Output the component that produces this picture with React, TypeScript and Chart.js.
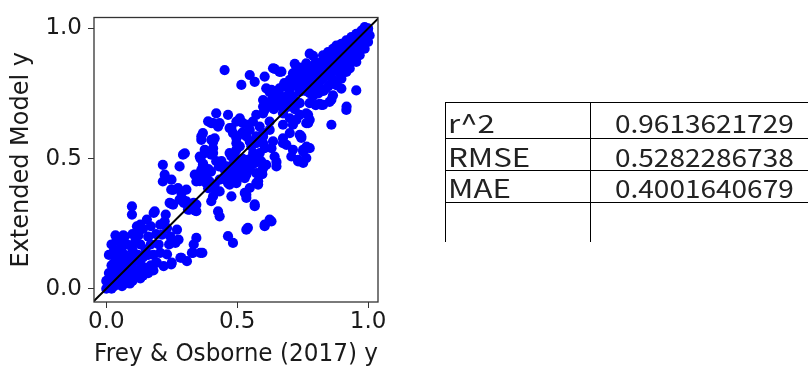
import React, { useEffect, useRef } from "react";
import { Chart, registerables } from "chart.js";

Chart.register(...registerables);

// Scatter values (Frey & Osborne y  vs  Extended Model y)
const xValues = [
  0.00, 0.01, 0.00, 0.02, 0.02, 0.03, 0.03, 0.01, 0.04, 0.04,
  0.05, 0.05, 0.03, 0.04, 0.06, 0.06, 0.07, 0.07, 0.08, 0.08,
  0.05, 0.07, 0.09, 0.09, 0.10, 0.10, 0.11, 0.11, 0.12, 0.12,
  0.13, 0.13, 0.14, 0.14, 0.15, 0.16, 0.16, 0.17, 0.18, 0.19,
  0.06, 0.08, 0.10, 0.11, 0.04, 0.07, 0.10, 0.12, 0.15, 0.17,
  0.02, 0.09, 0.06, 0.14, 0.01, 0.03, 0.13, 0.18, 0.02, 0.05,
  0.098, 0.098, 0.155, 0.13, 0.117, 0.181, 0.206, 0.232, 0.213, 0.245,
  0.264, 0.27, 0.276, 0.227, 0.247, 0.296, 0.334, 0.34, 0.334, 0.327,
  0.359, 0.25, 0.283, 0.308, 0.206, 0.232, 0.193, 0.219, 0.344, 0.223,
  0.20, 0.24, 0.16, 0.19, 0.14, 0.17, 0.065, 0.035, 0.123,
  0.216, 0.223, 0.216, 0.249, 0.255, 0.287, 0.28, 0.293, 0.255, 0.293,
  0.312, 0.344, 0.185, 0.338, 0.344, 0.363, 0.382, 0.395, 0.389, 0.414,
  0.42, 0.433, 0.452, 0.471, 0.465, 0.497, 0.51, 0.535, 0.548, 0.573,
  0.484, 0.459, 0.522, 0.478, 0.529, 0.548, 0.427, 0.433, 0.541, 0.401,
  0.433, 0.535, 0.535, 0.567, 0.58, 0.58, 0.596, 0.596, 0.631, 0.605,
  0.535, 0.465, 0.484, 0.367, 0.331, 0.287, 0.248, 0.30, 0.36, 0.37,
  0.357, 0.376, 0.401, 0.369, 0.376, 0.35, 0.357, 0.382, 0.478, 0.49,
  0.503, 0.484, 0.459, 0.471, 0.497, 0.529, 0.522, 0.548, 0.248, 0.274,
  0.306, 0.242, 0.28, 0.306, 0.318, 0.344,
  0.452, 0.516, 0.548, 0.567, 0.605, 0.637, 0.669, 0.42, 0.465, 0.51,
  0.522, 0.408, 0.427, 0.478, 0.484, 0.497, 0.497, 0.414, 0.408, 0.401,
  0.433, 0.471, 0.369, 0.363, 0.408, 0.376, 0.408, 0.471, 0.497, 0.535,
  0.548, 0.573, 0.554, 0.548, 0.56, 0.586, 0.599, 0.624, 0.599, 0.573,
  0.548, 0.579, 0.599, 0.605, 0.586, 0.56, 0.541, 0.567, 0.592, 0.599,
  0.605, 0.599, 0.62, 0.64, 0.389, 0.363, 0.401, 0.51, 0.52, 0.54,
  0.675, 0.688, 0.713, 0.707, 0.733, 0.764, 0.752, 0.777, 0.643, 0.65,
  0.771, 0.771, 0.86, 0.917, 0.752, 0.765, 0.733, 0.65, 0.599, 0.592,
  0.573, 0.567, 0.624, 0.605, 0.631, 0.637, 0.675, 0.701, 0.745, 0.713,
  0.675, 0.624, 0.599, 0.573, 0.561, 0.58, 0.548, 0.675, 0.701, 0.726,
  0.739, 0.764, 0.777, 0.764, 0.739, 0.745,
  0.752, 0.611, 0.408, 0.497, 0.50, 0.828,
  0.611, 0.637, 0.662, 0.688, 0.631, 0.656, 0.682, 0.701, 0.669,
  0.631, 0.65, 0.675, 0.701, 0.713, 0.726, 0.745, 0.764, 0.777, 0.79,
  0.803, 0.643, 0.669, 0.688, 0.713, 0.739, 0.758, 0.777, 0.803, 0.777,
  0.739, 0.701,
  0.777, 0.79, 0.643, 0.662, 0.72, 0.735, 0.828, 0.847, 0.866, 0.879,
  0.898, 0.917, 0.936, 0.955, 0.975, 0.987, 1.00, 0.853, 0.866, 0.879,
  0.898, 0.917, 0.93, 0.955, 0.968, 0.987, 1.00, 1.006, 0.898, 0.955,
  0.918, 0.815, 0.80, 0.624, 0.636, 0.86, 0.822,
  0.80, 0.82, 0.84, 0.86, 0.88, 0.90, 0.92, 0.94, 0.96, 0.97,
  0.98, 0.99, 0.95, 0.93, 0.91, 0.89, 0.87, 0.85, 0.83, 0.81,
  0.79, 0.77, 0.75, 0.78, 0.80, 0.76, 0.82, 0.84, 0.86, 0.88,
  0.90, 0.92, 0.94, 0.96, 0.98, 0.99, 0.97, 0.95, 0.93, 0.91,
  0.89, 0.87, 0.85, 0.83, 0.81, 0.79, 0.84, 0.86, 0.88, 0.90,
  0.92, 0.94, 0.96, 0.98, 0.99, 1.00, 0.97, 0.95, 0.93, 0.91,
  0.68, 0.70, 0.72, 0.74, 0.66, 0.69, 0.71, 0.73, 0.76, 0.78,
  0.80, 0.82, 0.75, 0.73, 0.84, 0.86, 0.88, 0.90, 0.92, 0.94,
  0.39, 0.42, 0.45, 0.50, 0.52, 0.44, 0.40, 0.47, 0.43, 0.49,
  0.68, 0.72, 0.70, 0.66, 0.74,
];

const yValues = [
  0.00, 0.01, 0.03, 0.00, 0.03, 0.01, 0.05, 0.06, 0.02, 0.07,
  0.03, 0.09, 0.10, 0.12, 0.05, 0.11, 0.02, 0.08, 0.04, 0.10,
  0.14, 0.13, 0.06, 0.12, 0.03, 0.08, 0.05, 0.11, 0.07, 0.13,
  0.04, 0.10, 0.06, 0.12, 0.08, 0.06, 0.13, 0.09, 0.07, 0.10,
  0.16, 0.17, 0.15, 0.18, 0.19, 0.20, 0.21, 0.21, 0.15, 0.17,
  0.09, 0.02, 0.01, 0.05, 0.13, 0.15, 0.17, 0.13, 0.17, 0.18,
  0.316, 0.285, 0.266, 0.246, 0.24, 0.291, 0.246, 0.233, 0.208, 0.20,
  0.176, 0.227, 0.189, 0.285, 0.327, 0.33, 0.33, 0.30, 0.17, 0.138,
  0.138, 0.10, 0.119, 0.106, 0.138, 0.132, 0.10, 0.087, 0.195, 0.259,
  0.17, 0.17, 0.20, 0.21, 0.23, 0.24, 0.205, 0.205, 0.205,
  0.476, 0.438, 0.412, 0.419, 0.38, 0.368, 0.47, 0.515, 0.323, 0.342,
  0.304, 0.323, 0.297, 0.438, 0.412, 0.457, 0.431, 0.412, 0.386, 0.399,
  0.374, 0.419, 0.431, 0.444, 0.406, 0.412, 0.438, 0.438, 0.457, 0.444,
  0.476, 0.47, 0.483, 0.355, 0.368, 0.387, 0.297, 0.278, 0.234, 0.336,
  0.374, 0.349, 0.361, 0.324, 0.413, 0.40, 0.44, 0.457, 0.259, 0.24,
  0.227, 0.202, 0.176, 0.138, 0.138, 0.119, 0.093, 0.52, 0.50, 0.48,
  0.508, 0.521, 0.515, 0.476, 0.451, 0.438, 0.413, 0.406, 0.508, 0.521,
  0.476, 0.444, 0.419, 0.40, 0.406, 0.425, 0.451, 0.496, 0.381, 0.387,
  0.381, 0.33, 0.342, 0.336, 0.304, 0.298,
  0.84, 0.783, 0.821, 0.795, 0.815, 0.847, 0.834, 0.674, 0.668, 0.655,
  0.636, 0.636, 0.623, 0.617, 0.598, 0.578, 0.559, 0.578, 0.54, 0.636,
  0.636, 0.617, 0.598, 0.572, 0.564, 0.534, 0.521, 0.521, 0.534, 0.585,
  0.61, 0.585, 0.547, 0.496, 0.642, 0.623, 0.598, 0.642, 0.674, 0.668,
  0.566, 0.578, 0.559, 0.54, 0.521, 0.508, 0.495, 0.482, 0.489, 0.725,
  0.687, 0.70, 0.70, 0.69, 0.643, 0.585, 0.572, 0.547, 0.60, 0.63,
  0.578, 0.553, 0.534, 0.508, 0.495, 0.502, 0.483, 0.54, 0.508, 0.47,
  0.668, 0.636, 0.63, 0.687, 0.534, 0.546, 0.489, 0.487, 0.464, 0.444,
  0.406, 0.317, 0.266, 0.246, 0.54, 0.566, 0.559, 0.598, 0.585, 0.63,
  0.63, 0.61, 0.585, 0.559, 0.521, 0.508, 0.464, 0.674, 0.655, 0.649,
  0.668, 0.674, 0.649, 0.636, 0.591, 0.579,
  0.527, 0.476, 0.355, 0.642, 0.585, 0.706,
  0.77, 0.757, 0.77, 0.776, 0.725, 0.738, 0.725, 0.738, 0.70,
  0.764, 0.751, 0.777, 0.802, 0.827, 0.853, 0.84, 0.866, 0.847, 0.815,
  0.827, 0.713, 0.719, 0.732, 0.738, 0.757, 0.783, 0.751, 0.764, 0.713,
  0.713, 0.70,
  0.903, 0.895, 0.845, 0.833, 0.864, 0.85, 0.897, 0.909, 0.922, 0.934,
  0.941, 0.954, 0.967, 0.979, 0.992, 1.005, 0.998, 0.718, 0.743, 0.782,
  0.807, 0.833, 0.846, 0.871, 0.897, 0.922, 0.948, 0.973, 0.769, 0.762,
  0.70, 0.71, 0.705, 0.756, 0.74, 0.726, 0.706,
  0.80, 0.84, 0.82, 0.86, 0.85, 0.88, 0.90, 0.92, 0.94, 0.96,
  0.97, 0.99, 0.90, 0.87, 0.86, 0.83, 0.80, 0.78, 0.76, 0.75,
  0.77, 0.79, 0.80, 0.82, 0.85, 0.76, 0.80, 0.86, 0.89, 0.90,
  0.92, 0.93, 0.95, 0.96, 0.99, 0.95, 0.93, 0.95, 0.92, 0.90,
  0.87, 0.84, 0.83, 0.81, 0.78, 0.74, 0.77, 0.81, 0.79, 0.84,
  0.86, 0.89, 0.91, 0.94, 0.97, 1.00, 0.98, 0.93, 0.94, 0.92,
  0.79, 0.76, 0.78, 0.82, 0.75, 0.74, 0.72, 0.80, 0.83, 0.85,
  0.87, 0.87, 0.85, 0.83, 0.88, 0.90, 0.91, 0.93, 0.95, 0.96,
  0.46, 0.49, 0.46, 0.46, 0.50, 0.49, 0.45, 0.43, 0.47, 0.49,
  0.69, 0.69, 0.72, 0.72, 0.77,
];

// identity reference line y = x
const identityLine = [-0.06, 1.06];

const tickValues = [0, 0.5, 1];
const xRange = [-0.047, 1.038];
const yRange = [-0.051, 1.042];

const xTitle = "Frey & Osborne (2017) y";
const yTitle = "Extended Model y";

// metrics table
const metricNames = ["r^2", "RMSE", "MAE"];
const metricValues = ["0.9613621729", "0.5282286738", "0.4001640679"];

const TEXT = "#1a1a1a";
const FONT = "'DejaVu Sans', sans-serif";
const TABLE_FONT = "'Noto Sans CJK JP', sans-serif";

const framePlugin = {
  id: "frame",
  afterDatasetsDraw(chart: any) {
    const { ctx, chartArea } = chart;
    const { left, top, right, bottom } = chartArea;
    ctx.save();
    ctx.strokeStyle = "#333";
    ctx.lineWidth = 1.3;
    ctx.strokeRect(left, top, right - left, bottom - top);
    ctx.restore();
  },
};

function ScatterChart() {
  const ref = useRef<HTMLCanvasElement | null>(null);
  useEffect(() => {
    if (!ref.current) return;
    const points = xValues.map((x, i) => ({ x, y: yValues[i] }));
    const chart = new Chart(ref.current, {
      type: "scatter",
      data: {
        datasets: [
          {
            type: "line",
            data: identityLine.map((v) => ({ x: v, y: v })),
            borderColor: "#000",
            borderWidth: 2,
            pointRadius: 0,
            fill: false,
            order: 0,
          } as any,
          {
            data: points,
            backgroundColor: "#0000ff",
            borderWidth: 0,
            pointRadius: 5.1,
            order: 1,
          },
        ],
      },
      options: {
        animation: false,
        responsive: false,
        events: [],
        layout: { padding: { left: 0, top: 17, right: 22, bottom: 0 } },
        plugins: { legend: { display: false }, tooltip: { enabled: false } },
        scales: {
          x: {
            type: "linear",
            min: xRange[0],
            max: xRange[1],
            afterFit: (s: any) => {
              s.height = 65;
            },
            afterBuildTicks: (s: any) => {
              s.ticks = tickValues.map((v) => ({ value: v }));
            },
            grid: { display: true, drawOnChartArea: false, drawTicks: true, tickLength: 6, color: "#333", lineWidth: 1 },
            border: { display: false },
            ticks: {
              callback: (v: any) => Number(v).toFixed(1),
              font: { family: FONT, size: 23, lineHeight: 1 },
              color: TEXT,
              padding: 3,
              maxRotation: 0,
              autoSkip: false,
            },
            title: {
              display: true,
              text: xTitle,
              font: { family: FONT, size: 24, lineHeight: 1 },
              color: TEXT,
              padding: { top: 0, bottom: 0.5 },
            },
          },
          y: {
            type: "linear",
            min: yRange[0],
            max: yRange[1],
            afterFit: (s: any) => {
              s.width = 94;
            },
            afterBuildTicks: (s: any) => {
              s.ticks = tickValues.map((v) => ({ value: v }));
            },
            grid: { display: true, drawOnChartArea: false, drawTicks: true, tickLength: 6, color: "#333", lineWidth: 1 },
            border: { display: false },
            ticks: {
              callback: (v: any) => Number(v).toFixed(1),
              font: { family: FONT, size: 23, lineHeight: 1 },
              color: TEXT,
              padding: 6,
              autoSkip: false,
            },
            title: {
              display: true,
              text: yTitle,
              font: { family: FONT, size: 24, lineHeight: 1 },
              color: TEXT,
              padding: { top: 9.7, bottom: 0 },
            },
          },
        },
      },
      plugins: [framePlugin],
    });
    return () => chart.destroy();
  }, []);
  return <canvas ref={ref} width={400} height={367} style={{ position: "absolute", left: 0, top: 0 }} />;
}

function MetricsTable() {
  const rowLines = [102, 138, 170, 202];
  const baselines = [133.3, 166.7, 198.3];
  const fontSize = 25;
  const ascent = 1.16 * fontSize;
  const line = (style: React.CSSProperties, key: string) => (
    <div key={key} style={{ position: "absolute", background: "#000", ...style }} />
  );
  const textStyle = (left: number, baseline: number, scale: number): React.CSSProperties => ({
    position: "absolute",
    left,
    top: baseline - ascent,
    fontFamily: TABLE_FONT,
    fontSize,
    lineHeight: "normal",
    color: "#222",
    whiteSpace: "nowrap",
    transform: `scaleX(${scale})`,
    transformOrigin: "left top",
  });
  return (
    <div style={{ position: "absolute", left: 0, top: 0, width: 808, height: 367 }}>
      {rowLines.map((y, i) => line({ left: 446, top: y, width: 362, height: 1 }, "h" + i))}
      {line({ left: 445, top: 102, width: 1, height: 140 }, "v0")}
      {line({ left: 590, top: 102, width: 1, height: 140 }, "v1")}
      {metricNames.map((name, i) => (
        <div key={"n" + i} style={textStyle(448, baselines[i], 1.25)}>
          {name}
        </div>
      ))}
      {metricValues.map((val, i) => (
        <div key={"v" + i} style={textStyle(615, baselines[i], 1.12)}>
          {val}
        </div>
      ))}
    </div>
  );
}

export default function App() {
  return (
    <div style={{ position: "absolute", left: 0, top: 0, width: 808, height: 367, background: "#fff", overflow: "hidden" }}>
      <ScatterChart />
      <MetricsTable />
    </div>
  );
}
